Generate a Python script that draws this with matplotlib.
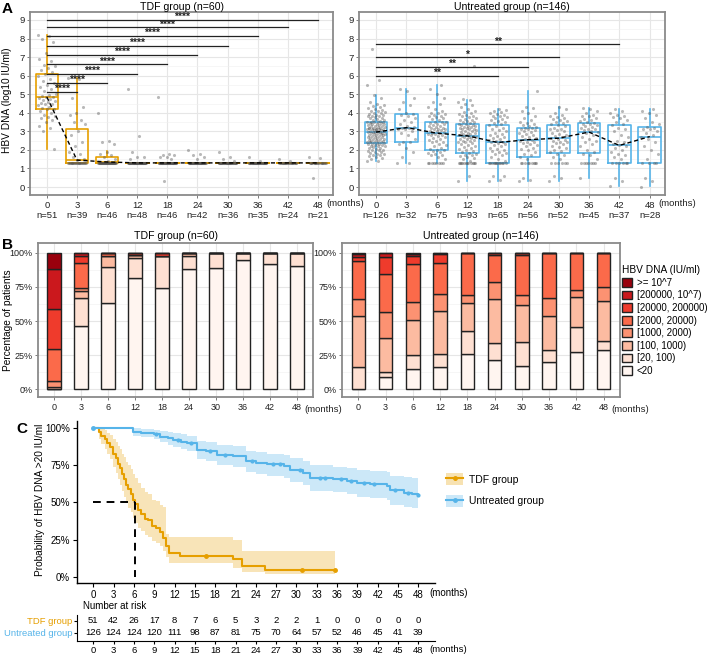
import numpy as np
import matplotlib.pyplot as plt
from matplotlib.patches import Patch
from matplotlib.lines import Line2D

plt.rcParams['font.family'] = ['Liberation Sans', 'DejaVu Sans']

W, H = 709, 656
ORANGE = '#E69F00'
BLUE = '#56B4E9'

# ------------------------------------------------ data
months = ['0', '3', '6', '12', '18', '24', '30', '36', '42', '48']
tdf_n = [51, 39, 46, 48, 46, 42, 36, 35, 24, 21]
unt_n = [126, 32, 75, 93, 65, 56, 52, 45, 37, 28]

# (whislo, q1, med, q3, whishi)
tdf_box = [(2.05, 4.2, 4.85, 6.1, 8.2), (1.3, 1.3, 1.45, 3.15, 5.9), (1.3, 1.3, 1.35, 1.6, 1.95),
           (1.3, 1.3, 1.3, 1.3, 1.3), (1.3, 1.3, 1.3, 1.3, 1.3), (1.3, 1.3, 1.3, 1.3, 1.3),
           (1.3, 1.3, 1.3, 1.3, 1.3), (1.3, 1.3, 1.3, 1.3, 1.3), (1.3, 1.3, 1.3, 1.3, 1.3),
           (1.3, 1.3, 1.3, 1.3, 1.3)]
unt_box = [(1.38, 2.37, 2.96, 3.53, 4.96), (1.3, 2.4, 3.2, 3.92, 5.27), (1.3, 1.97, 2.9, 3.53, 5.5),
           (0.3, 1.83, 2.76, 3.4, 4.7), (0.3, 1.3, 2.4, 3.35, 4.2), (0.3, 1.6, 2.55, 3.2, 5.15),
           (0.3, 1.83, 2.63, 3.35, 4.3), (0.48, 1.83, 2.96, 3.44, 4.25), (0.04, 1.3, 2.24, 3.35, 4.2),
           (0.04, 1.3, 2.72, 3.26, 4.2)]

tdf_pts = [
    [8.2, 8.15, 8.0, 7.8, 7.2, 6.9, 6.8, 6.6, 6.5, 6.4, 6.3, 6.2, 6.1, 6.0, 5.8, 5.7, 5.6, 5.5,
     5.4, 5.3, 5.2, 5.0, 4.95, 4.9, 4.85, 4.85, 4.8, 4.75, 4.7, 4.65, 4.6, 4.55, 4.5, 4.45, 4.4,
     4.3, 4.25, 4.2, 4.2, 4.1, 4.0, 3.9, 3.8, 3.75, 3.7, 3.6, 3.5, 3.3, 3.2, 3.0, 2.05],
    [5.9, 5.8, 4.8, 4.3, 4.0, 3.9, 3.6, 3.5, 3.4, 3.0, 2.8, 2.4, 2.2, 1.9, 1.8, 1.6, 1.5, 1.45] + [1.3] * 21,
    [4.0, 2.5, 2.4, 2.3, 1.9, 1.8, 1.7, 1.6, 1.5, 1.4] + [1.3] * 36,
    [5.3, 2.75, 1.9, 1.6, 1.6, 1.5] + [1.3] * 42,
    [4.85, 1.8, 1.75, 1.7, 1.6, 1.6, 1.5, 0.3] + [1.3] * 38,
    [2.0, 1.8, 1.7, 1.6, 1.5] + [1.3] * 37,
    [1.9, 1.6, 1.5, 1.4] + [1.3] * 32,
    [1.6, 1.4] + [1.3] * 33,
    [1.5, 1.4] + [1.3] * 22,
    [1.6, 1.55, 0.5] + [1.3] * 18,
]

unt_pts = [
    [1.38, 1.4, 1.5, 1.55, 1.6, 1.65, 1.7, 1.75, 1.8, 1.8, 1.85, 1.9, 1.9, 1.95, 2.0, 2.0, 2.0, 2.05,
     2.1, 2.1, 2.15, 2.2, 2.2, 2.2, 2.25, 2.25, 2.3, 2.3, 2.3, 2.35, 2.35,
     2.4, 2.4, 2.45, 2.45, 2.5, 2.5, 2.5, 2.55, 2.55, 2.6, 2.6, 2.6, 2.65, 2.65, 2.7, 2.7, 2.7,
     2.75, 2.75, 2.8, 2.8, 2.8, 2.85, 2.85, 2.85, 2.9, 2.9, 2.9, 2.95, 2.95, 2.95, 2.96,
     3.0, 3.0, 3.0, 3.05, 3.05, 3.1, 3.1, 3.1, 3.15, 3.15, 3.2, 3.2, 3.2, 3.25, 3.25, 3.3, 3.3,
     3.3, 3.35, 3.35, 3.4, 3.4, 3.4, 3.45, 3.45, 3.5, 3.5, 3.5, 3.52, 3.53, 3.1, 3.2,
     3.55, 3.6, 3.6, 3.65, 3.7, 3.7, 3.75, 3.8, 3.8, 3.85, 3.9, 3.9, 3.95, 4.0, 4.0, 4.05, 4.1,
     4.1, 4.15, 4.2, 4.25, 4.3, 4.35, 4.4, 4.5, 4.6, 4.8, 4.96, 5.5, 5.75, 7.45],
    [1.3, 1.3, 1.6, 1.9, 2.1, 2.3, 2.4, 2.45, 2.6, 2.8, 2.9, 3.0, 3.1, 3.15, 3.2, 3.2, 3.25, 3.3,
     3.4, 3.5, 3.6, 3.7, 3.8, 3.9, 3.95, 4.0, 4.2, 4.4, 4.6, 4.8, 5.2, 5.3],
    [1.3] * 8 + [1.5, 1.6, 1.7, 1.75, 1.8, 1.85, 1.9, 1.95, 1.97, 2.0,
                 2.05, 2.1, 2.2, 2.25, 2.3, 2.4, 2.45, 2.5, 2.55, 2.6, 2.65, 2.7, 2.75, 2.8, 2.8,
                 2.85, 2.85, 2.9, 2.9, 2.95, 3.0, 3.0, 3.05, 3.1, 3.1, 3.15, 3.2, 3.2, 3.25, 3.3,
                 3.3, 3.35, 3.4, 3.4, 3.45, 3.5, 3.5, 3.53, 3.6, 3.65, 3.7, 3.75, 3.8, 3.85, 3.9,
                 3.95, 4.0, 4.0, 4.1, 4.2, 4.3, 4.5, 4.6, 4.8, 5.0, 5.3, 5.5],
    [0.3, 0.6] + [1.3] * 12 + [1.4, 1.5, 1.55, 1.6, 1.65, 1.7, 1.75, 1.8, 1.83,
                               1.9, 1.95, 2.0, 2.05, 2.1, 2.15, 2.2, 2.25, 2.3, 2.35, 2.4, 2.45,
                               2.5, 2.5, 2.55, 2.6, 2.6, 2.65, 2.7, 2.7, 2.72, 2.75, 2.76,
                               2.8, 2.8, 2.85, 2.85, 2.9, 2.9, 2.95, 3.0, 3.0, 3.05, 3.1, 3.1,
                               3.15, 3.2, 3.2, 3.25, 3.25, 3.3, 3.3, 3.35, 3.35, 3.4, 3.4,
                               3.45, 3.5, 3.5, 3.55, 3.6, 3.6, 3.65, 3.7, 3.75, 3.8, 3.85, 3.9,
                               3.95, 4.0, 4.05, 4.1, 4.2, 4.3, 4.4, 4.5, 4.6, 4.7, 4.75, 6.5],
    [0.3, 0.4, 0.6, 0.6] + [1.3] * 12 + [1.4, 1.5, 1.6, 1.7, 1.8, 1.85, 1.9, 1.95, 2.0, 2.05, 2.1,
                                         2.2, 2.25, 2.3, 2.35, 2.4, 2.45, 2.5, 2.55, 2.6, 2.65,
                                         2.7, 2.75, 2.8, 2.85, 2.9, 3.0, 3.05, 3.1, 3.2, 3.3,
                                         3.35, 3.4, 3.45, 3.5, 3.55, 3.6, 3.65, 3.7, 3.75, 3.8,
                                         3.85, 3.9, 3.95, 4.0, 4.05, 4.1, 4.15, 4.2],
    [0.3, 0.4, 0.5] + [1.3] * 9 + [1.5, 1.6, 1.7, 1.8, 1.9, 2.0, 2.05, 2.1, 2.2, 2.25, 2.3, 2.35,
                                   2.4, 2.45, 2.5, 2.55, 2.6, 2.65, 2.7, 2.75, 2.8, 2.85, 2.9,
                                   2.95, 3.0, 3.05, 3.1, 3.15, 3.2, 3.2, 3.25, 3.3, 3.35, 3.4,
                                   3.45, 3.5, 3.6, 3.7, 3.8, 4.0, 4.1, 4.25, 4.3, 5.15],
    [0.3, 0.5, 0.6] + [1.3] * 6 + [1.5, 1.6, 1.7, 1.8, 1.9, 1.95, 2.0, 2.1, 2.15, 2.2, 2.3, 2.35,
                                   2.4, 2.45, 2.5, 2.55, 2.6, 2.65, 2.7, 2.75, 2.8, 2.85, 2.9,
                                   3.0, 3.05, 3.1, 3.15, 3.2, 3.3, 3.35, 3.4, 3.45, 3.5, 3.55,
                                   3.6, 3.65, 3.7, 3.75, 3.8, 3.9, 4.0, 4.2, 4.3],
    [0.5] + [1.3] * 7 + [1.5, 1.7, 1.8, 1.9, 2.0, 2.2, 2.3, 2.4, 2.5, 2.6, 2.7, 2.8, 2.9, 2.95,
                         3.0, 3.05, 3.1, 3.15, 3.2, 3.25, 3.3, 3.35, 3.4, 3.4, 3.44, 3.5, 3.55,
                         3.6, 3.65, 3.7, 3.8, 3.85, 3.9, 4.0, 4.1, 4.2, 4.25],
    [0.04, 0.3, 0.5] + [1.3] * 6 + [1.5, 1.6, 1.7, 1.8, 1.9, 2.0, 2.1, 2.2, 2.24, 2.3, 2.4, 2.5,
                                    2.7, 2.8, 3.0, 3.1, 3.2, 3.35, 3.4, 3.5, 3.6, 3.7, 3.75, 3.8,
                                    3.9, 4.0, 4.1, 4.2],
    [0.0, 0.3, 0.5] + [1.3] * 4 + [1.5, 1.8, 2.0, 2.2, 2.4, 2.6, 2.72, 2.8, 2.9, 3.0, 3.1, 3.15,
                                   3.2, 3.26, 3.4, 3.5, 3.7, 3.9, 4.0, 4.1, 4.2],
]

tdf_sig_end = [1, 2, 3, 4, 5, 6, 7, 8, 9]
tdf_sig_y = [5.14, 5.63, 6.09, 6.61, 7.11, 7.62, 8.14, 8.6, 9.02]
tdf_sig_lab = ['****'] * 9
unt_sig_end = [4, 5, 6, 8]
unt_sig_y = [5.98, 6.49, 6.99, 7.69]
unt_sig_lab = ['**', '**', '*', '**']

# panel B: counts per level, levels ordered <20 ... >=10^7
levels = ['<20', '[20, 100)', '[100, 1000)', '[1000, 2000)', '[2000, 20000)',
          '[20000, 200000)', '[200000, 10^7)', '>= 10^7']
level_colors = ['#FFF5F0', '#FEE0D2', '#FCBBA1', '#FC9272', '#FB6A4A', '#EF3B2C', '#CB181D', '#99000D']
tdf_cnt = [[0, 0, 1, 2, 12, 15, 15, 6], [18, 8, 2, 1, 7, 2, 1, 0], [29, 12, 4, 0, 1, 0, 0, 0],
           [39, 7, 1, 0, 0, 1, 0, 0], [34, 11, 0, 0, 0, 1, 0, 0], [37, 4, 1, 0, 0, 0, 0, 0],
           [32, 4, 0, 0, 0, 0, 0, 0], [33, 2, 0, 0, 0, 0, 0, 0], [22, 2, 0, 0, 0, 0, 0, 0],
           [19, 2, 0, 0, 0, 0, 0, 0]]
unt_cnt = [[0, 21, 47, 15, 35, 4, 3, 1], [3, 1, 8, 6, 9, 4, 1, 0], [11, 8, 19, 10, 21, 4, 1, 1],
           [15, 9, 29, 12, 21, 6, 1, 0], [17, 11, 13, 4, 20, 0, 0, 0], [12, 7, 18, 7, 11, 1, 0, 0],
           [9, 9, 14, 4, 15, 1, 0, 0], [9, 4, 11, 6, 15, 0, 0, 0], [10, 7, 8, 2, 10, 0, 0, 0],
           [8, 2, 8, 3, 7, 0, 0, 0]]

# panel C: Kaplan-Meier (months, %)
tdf_km_t = [0, 0.8, 1.2, 1.7, 2.1, 2.5, 2.9, 3.3, 3.6, 3.9, 4.2, 4.6, 4.9, 5.2, 5.5, 5.9, 6.2, 6.6,
            7.1, 7.6, 8.1, 8.6, 9.3, 9.8, 10.3, 10.8, 11.2, 12.8, 20.6, 21.9, 25.3, 35.7]
tdf_km_s = [100, 97.5, 95, 92.5, 90, 87.5, 83, 80, 76, 73, 69, 66, 62, 59, 56, 52, 49, 45,
            42, 39, 38, 34, 33, 30, 26, 21, 16, 14, 11.7, 7.2, 4.5, 4.5]
tdf_km_hi = [100, 100, 99.5, 98.5, 97, 95.5, 93, 91, 88, 86, 83, 80.5, 77.5, 75, 72.5, 69, 66.5, 63,
             60, 57, 56, 52, 51, 48, 47, 29, 27, 27, 25, 17, 17, 17]
tdf_km_lo = [100, 93, 89.5, 86, 82.5, 79, 74, 70, 65.5, 62, 57.5, 54, 49.5, 46.5, 43.5, 39.5, 36.5, 33,
             30.5, 28, 27, 24, 23, 20.5, 17, 13, 9.5, 9, 6, 3, 1.5, 1.5]
tdf_cens = [16.7, 30.8, 35.7]
tdf_median = 6.1

unt_km_t = [0, 5.9, 7.0, 8.9, 9.8, 11.0, 11.8, 13.0, 13.8, 15.3, 16.7, 18.2, 20.7, 22.6, 24.0,
            25.6, 28.1, 29.0, 31.0, 32.0, 35.4, 37.4, 38.9, 40.9, 43.3, 43.8, 45.8, 47.0, 48.0]
unt_km_s = [100, 97.8, 97.0, 96.0, 94.4, 93.5, 92.2, 91.0, 90.0, 85.6, 84.4, 81.8, 81.1, 77.8, 76.8,
            75.6, 74.4, 72.2, 70.0, 66.7, 65.6, 64.4, 62.9, 62.2, 61.1, 58.2, 56.7, 55.8, 54.9]
unt_km_hi = [100, 100, 99.5, 99, 98, 97.5, 97, 96, 95, 91.5, 90.5, 88.5, 88, 85, 84,
             83, 82, 80, 78, 75, 74, 73, 72, 71.5, 70.5, 68, 67, 66.5, 66]
unt_km_lo = [100, 95, 94, 92.5, 90.5, 89, 87.5, 86, 85, 79.5, 78, 75, 74, 70.5, 69,
             68, 66.5, 64, 61.5, 58, 57, 55.5, 54, 53, 51.5, 48.5, 47, 46, 45]
unt_cens = [9.2, 12.5, 14.4, 17.2, 19.5, 23.5, 26.5, 27.5, 30.5, 33.5, 34.2, 36.5, 38, 40,
            41.5, 44.5, 46.5, 48]

risk_months = [0, 3, 6, 9, 12, 15, 18, 21, 24, 27, 30, 33, 36, 39, 42, 45, 48]
tdf_risk = [51, 42, 26, 17, 8, 7, 6, 5, 3, 2, 2, 1, 0, 0, 0, 0, 0]
unt_risk = [126, 124, 124, 120, 111, 98, 87, 81, 75, 70, 64, 57, 52, 46, 45, 41, 39]

# ------------------------------------------------ helpers
fig = plt.figure(figsize=(W / 100, H / 100), dpi=100)


def add_ax(l, t, r, b):
    return fig.add_axes([l / W, 1 - b / H, (r - l) / W, (b - t) / H])


def ftext(x, y, s, **kw):
    fig.text(x / W, 1 - y / H, s, **kw)


def gg_style(ax, fs=6.8):
    ax.set_facecolor('white')
    for sp in ax.spines.values():
        sp.set_color('#8a8a8a')
        sp.set_linewidth(1.3)
    ax.grid(True, which='major', color='#E6E6E6', lw=0.8)
    ax.grid(True, which='minor', axis='y', color='#EFEFEF', lw=0.4)
    ax.set_axisbelow(True)
    ax.tick_params(length=2.5, width=0.6, color='#666666', labelsize=fs, pad=1.5, labelcolor='#222222')
    ax.tick_params(which='minor', length=0)


def panel_a(ax, box, pts, sig_end, sig_y, sig_lab, color, n, title):
    gg_style(ax)
    stats = [dict(whislo=b[0], q1=b[1], med=b[2], q3=b[3], whishi=b[4]) for b in box]
    ax.bxp(stats, positions=range(10), widths=0.75, showfliers=False, showcaps=False,
           boxprops=dict(color=color, lw=1.2), whiskerprops=dict(color=color, lw=1.2),
           medianprops=dict(color=color, lw=1.2), manage_ticks=False, zorder=2)
    for i, ys in enumerate(pts):
        k = np.arange(len(ys))
        xj = i + ((k * 0.618034) % 1 - 0.5) * 0.6
        ax.scatter(xj, ys, s=5, color='#505050', alpha=0.4, lw=0, zorder=3)
    ax.plot(range(10), [b[2] for b in box], color='black', ls=(0, (3, 2)), lw=1, zorder=4)
    for e, y, lab in zip(sig_end, sig_y, sig_lab):
        ax.plot([0, e], [y, y], color='#222222', lw=0.9, zorder=4)
        ax.text(e / 2, y - 0.12, lab, ha='center', va='bottom', fontsize=7.5, fontweight='bold',
                color='#222222', zorder=5)
    ax.set_xlim(-0.56, 9.5)
    ax.set_ylim(-0.43, 9.43)
    ax.set_xticks(range(10))
    ax.set_xticklabels(months)
    ax.set_yticks(range(10))
    ax.set_yticks(np.arange(0.5, 9.5, 1), minor=True)
    for i, v in enumerate(n):
        ax.text(i, -20 / 183, 'n=%d' % v, ha='center', va='center', fontsize=6.8,
                color='#222222', transform=ax.get_xaxis_transform())
    ax.text(9.28, -8 / 183, '(months)', ha='left', va='center', fontsize=6.8, color='#222222',
            transform=ax.get_xaxis_transform())
    ax.set_title(title, fontsize=7.6, pad=1.5)


def panel_b(ax, cnt, title):
    gg_style(ax, fs=6.5)
    cnt = np.array(cnt, dtype=float)
    frac = cnt / cnt.sum(axis=1, keepdims=True)
    bottom = np.zeros(10)
    for j in range(8):
        ax.bar(range(10), frac[:, j], bottom=bottom, width=0.5, color=level_colors[j],
               edgecolor='#222222', lw=1.0, zorder=3)
        bottom += frac[:, j]
    ax.set_xlim(-0.6, 9.6)
    ax.set_ylim(-0.055, 1.07)
    ax.set_xticks(range(10))
    ax.set_xticklabels(months)
    ax.set_yticks([0, 0.25, 0.5, 0.75, 1.0])
    ax.set_yticklabels(['0%', '25%', '50%', '75%', '100%'])
    ax.set_yticks([0.125, 0.375, 0.625, 0.875], minor=True)
    ax.text(9.27, -8 / 154 * 1.0, '(months)', ha='left', va='top', fontsize=6.8, color='#222222',
            transform=ax.get_xaxis_transform())
    ax.set_title(title, fontsize=7.6, pad=3)


# ------------------------------------------------ panel A
axA1 = add_ax(30, 12, 333, 195)
panel_a(axA1, tdf_box, tdf_pts, tdf_sig_end, tdf_sig_y, tdf_sig_lab, ORANGE, tdf_n, 'TDF group (n=60)')
axA2 = add_ax(359, 12, 665, 195)
panel_a(axA2, unt_box, unt_pts, unt_sig_end, unt_sig_y, unt_sig_lab, BLUE, unt_n, 'Untreated group (n=146)')
ftext(2, 9, 'A', fontsize=11, fontweight='bold', va='center')
ftext(7, 100, 'HBV DNA (log10 IU/ml)', rotation=90, fontsize=7.3, ha='center', va='center')

# ------------------------------------------------ panel B
axB1 = add_ax(38, 243, 313, 397)
panel_b(axB1, tdf_cnt, 'TDF group (n=60)')
axB2 = add_ax(342, 243, 620, 397)
panel_b(axB2, unt_cnt, 'Untreated group (n=146)')
ftext(2, 245, 'B', fontsize=11, fontweight='bold', va='center')
ftext(8, 320, 'Percentage of patients', rotation=90, fontsize=7.3, ha='center', va='center')

handles = [Patch(facecolor=level_colors[j], edgecolor='#222222', lw=1.0) for j in range(7, -1, -1)]
fig.legend(handles, levels[::-1], title='HBV DNA (IU/ml)', loc='upper left',
           bbox_to_anchor=(622 / W, 1 - 265 / H), frameon=False, fontsize=7, title_fontsize=7.3,
           handlelength=1.0, handleheight=1.0, labelspacing=0.27, handletextpad=0.5,
           borderaxespad=0, borderpad=0, alignment='left')

# ------------------------------------------------ panel C
axC = add_ax(77, 421, 435, 583)
axC.fill_between(tdf_km_t, tdf_km_lo, tdf_km_hi, step='post', color=ORANGE, alpha=0.28, lw=0)
axC.fill_between(unt_km_t, unt_km_lo, unt_km_hi, step='post', color=BLUE, alpha=0.3, lw=0)
axC.step(tdf_km_t, tdf_km_s, where='post', color=ORANGE, lw=1.5)
axC.step(unt_km_t, unt_km_s, where='post', color=BLUE, lw=1.5)
idx = np.searchsorted(tdf_km_t, tdf_cens, side='right') - 1
axC.plot(tdf_cens, np.array(tdf_km_s)[idx], 'o', color=ORANGE, ms=2.5)
idx = np.searchsorted(unt_km_t, unt_cens, side='right') - 1
axC.plot(unt_cens, np.array(unt_km_s)[idx], 'o', color=BLUE, ms=2.0)
axC.plot([0], [100], 'o', color=BLUE, ms=2.5)
axC.plot([0, tdf_median], [50, 50], color='black', lw=1.4, ls=(0, (4, 3)))
axC.plot([tdf_median, tdf_median], [50, 0], color='black', lw=1.4, ls=(0, (4, 3)))
axC.set_xlim(-2.4, 50.45)
axC.set_ylim(-4.25, 104.9)
axC.set_xticks(risk_months)
axC.set_yticks([0, 25, 50, 75, 100])
axC.set_yticklabels(['0%', '25%', '50%', '75%', '100%'])
for s in ['top', 'right']:
    axC.spines[s].set_visible(False)
for s in ['left', 'bottom']:
    axC.spines[s].set_linewidth(1.0)
axC.tick_params(length=3, width=0.8, labelsize=7, pad=2)
axC.text(49.6, -10 / 162, '(months)', ha='left', va='center', fontsize=7,
         transform=axC.get_xaxis_transform())
ftext(16, 429, 'C', fontsize=11, fontweight='bold', va='center')
ftext(40, 500, 'Probability of HBV DNA >20 IU/ml', rotation=90, fontsize=7.3, ha='center', va='center')

legC = [(Patch(facecolor=ORANGE, alpha=0.3, lw=0), Line2D([], [], color=ORANGE, lw=1.5, marker='o', ms=2.5)),
        (Patch(facecolor=BLUE, alpha=0.3, lw=0), Line2D([], [], color=BLUE, lw=1.5, marker='o', ms=2.5))]
fig.legend(legC, ['TDF group', 'Untreated group'], loc='center left',
           bbox_to_anchor=(437 / W, 1 - 490 / H), frameon=False, fontsize=7.5,
           handlelength=1.6, handleheight=1.3, labelspacing=1.0, handletextpad=0.6)

# risk table
axR = add_ax(77, 615, 435, 641)
for m, a, b in zip(risk_months, tdf_risk, unt_risk):
    axR.text(m, 0.77, str(a), ha='center', va='center', fontsize=6.8)
    axR.text(m, 0.31, str(b), ha='center', va='center', fontsize=6.8)
axR.set_xlim(-2.4, 50.45)
axR.set_ylim(0, 1)
axR.set_xticks(risk_months)
axR.set_yticks([0.77, 0.31])
axR.set_yticklabels(['TDF group', 'Untreated group'])
axR.get_yticklabels()[0].set_color(ORANGE)
axR.get_yticklabels()[1].set_color(BLUE)
for s in ['top', 'right']:
    axR.spines[s].set_visible(False)
axR.tick_params(length=2.5, width=0.8, labelsize=6.8, pad=1)
axR.text(49.6, -8 / 26, '(months)', ha='left', va='center', fontsize=6.8,
         transform=axR.get_xaxis_transform())
ftext(83, 606, 'Number at risk', fontsize=7, va='center')

fig.savefig('out.png', dpi=100)
